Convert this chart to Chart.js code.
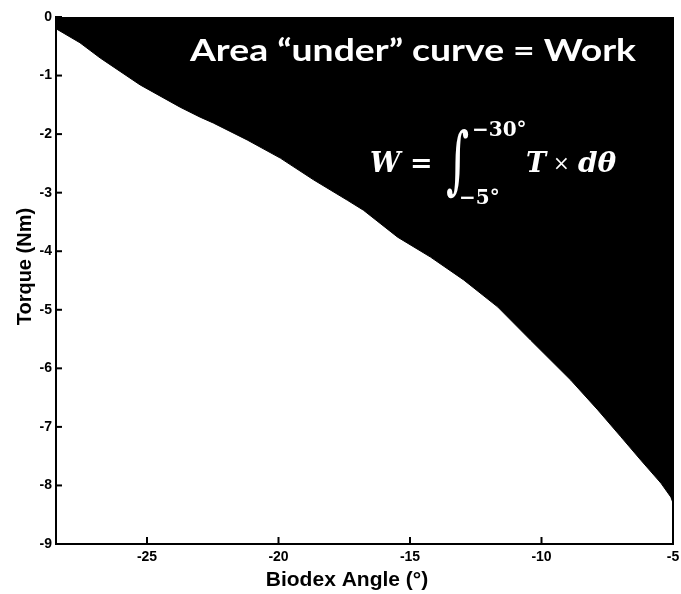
<!DOCTYPE html>
<html>
<head>
<meta charset="utf-8">
<script src="https://cdn.jsdelivr.net/npm/chart.js@4"></script>
<style>
  html, body { margin: 0; padding: 0; background: #fff; }
  #wrap { width: 681px; height: 594px; }
</style>
</head>
<body>
<div id="wrap"><canvas id="workChart"></canvas></div>
<script>
// torque vs angle, area above the curve shaded black (MATLAB style figure)
const angles = [-28.46, -27.55, -26.78, -25.26, -23.74, -22.98, -22.48, -21.19, -19.93, -18.67, -17.38,
  -16.77, -15.47, -14.22, -12.96, -11.67, -10.41, -8.89, -7.86, -6.98, -6.22, -5.46, -5.08, -5.0];
const torque = [-0.20, -0.44, -0.70, -1.16, -1.54, -1.71, -1.81, -2.10, -2.41, -2.78, -3.13,
  -3.30, -3.76, -4.10, -4.49, -4.95, -5.52, -6.20, -6.71, -7.17, -7.57, -7.96, -8.20, -8.30];
const xTicks = [-25, -20, -15, -10, -5];
const yTicks = [-9, -8, -7, -6, -5, -4, -3, -2, -1, 0];

const tickFont = { family: "'Liberation Sans Narrow', 'Liberation Sans', Arial", size: 14, weight: "bold" };

// inward tick marks + right frame line
const frame = {
  id: "frame",
  afterDraw(chart) {
    const { ctx, chartArea: a, scales } = chart;
    ctx.save();
    ctx.strokeStyle = "#000";
    ctx.lineWidth = 2;
    ctx.beginPath();
    ctx.moveTo(a.right, a.top);
    ctx.lineTo(a.right, a.bottom);
    ctx.stroke();
    xTicks.forEach((v) => {
      const px = scales.x.getPixelForValue(v);
      ctx.beginPath();
      ctx.moveTo(px, a.bottom);
      ctx.lineTo(px, a.bottom - 7);
      ctx.stroke();
    });
    yTicks.forEach((v) => {
      const py = scales.y.getPixelForValue(v);
      ctx.beginPath();
      ctx.moveTo(a.left, py);
      ctx.lineTo(a.left + 6, py);
      ctx.stroke();
    });
    ctx.restore();
  },
};

// white annotation text inside the black area
const notes = {
  id: "notes",
  afterDraw(chart) {
    const { ctx } = chart;
    ctx.save();
    ctx.fillStyle = "#fff";
    ctx.textBaseline = "alphabetic";
    ctx.textAlign = "left";
    ctx.font = "bold 30px Lato, 'Open Sans', sans-serif";
    const t = "Area \u201cunder\u201d curve = Work";
    const w = ctx.measureText(t).width;
    ctx.save();
    ctx.translate(190, 61);
    ctx.scale(446 / w, 1);
    ctx.fillText(t, 0, 0);
    ctx.restore();

    const serif = "'DejaVu Serif', 'Liberation Serif', serif";
    ctx.font = "bold italic 27px " + serif;
    ctx.fillText("W", 370, 172);
    ctx.font = "bold 27px " + serif;
    ctx.fillText("=", 410, 172);
    // integral sign, tall and narrow
    ctx.save();
    ctx.textBaseline = "middle";
    ctx.translate(446, 166);
    ctx.scale(0.6, 1);
    ctx.font = "74px " + serif;
    ctx.fillText("\u222b", 0, 0);
    ctx.restore();
    ctx.font = "bold 20px " + serif;
    ctx.fillText("\u221230\u00b0", 472, 136);
    ctx.fillText("\u22125\u00b0", 459, 204);
    ctx.font = "bold italic 27px " + serif;
    ctx.fillText("T", 526, 172);
    ctx.font = "20px " + serif;
    ctx.fillText("\u00d7", 553, 170);
    ctx.font = "bold italic 28px " + serif;
    ctx.fillText("d\u03b8", 578, 172);
    ctx.restore();
  },
};

new Chart(document.getElementById("workChart"), {
  type: "scatter",
  data: {
    datasets: [
      {
        data: angles.map((a, i) => ({ x: a, y: torque[i] })),
        showLine: true,
        borderColor: "#000",
        borderWidth: 1,
        backgroundColor: "#000",
        pointRadius: 0,
        fill: "end",
      },
    ],
  },
  options: {
    responsive: true,
    maintainAspectRatio: false,
    animation: false,
    layout: { padding: { top: 17, right: 8, left: 0, bottom: 0 } },
    plugins: {
      legend: { display: false },
      tooltip: { enabled: false },
    },
    scales: {
      x: {
        type: "linear",
        min: -28.46,
        max: -5,
        afterBuildTicks: (s) => { s.ticks = xTicks.map((v) => ({ value: v })); },
        afterFit: (s) => { s.height = 50; s.paddingLeft = 0; s.paddingRight = 0; },
        grid: { display: false, drawTicks: false },
        border: { color: "#000", width: 2 },
        ticks: { color: "#000", font: tickFont, padding: 5, maxRotation: 0, autoSkip: false },
        title: {
          display: true,
          // trailing spaces nudge the centred title left like the original
          text: "Biodex Angle (\u00b0)      ",
          color: "#000",
          font: { family: "'Liberation Sans', Arial", size: 21, weight: "bold" },
          padding: { top: 0, bottom: 1 },
        },
      },
      y: {
        min: -9,
        max: 0,
        afterBuildTicks: (s) => { s.ticks = yTicks.map((v) => ({ value: v })); },
        afterFit: (s) => { s.width = 56; s.paddingTop = 0; s.paddingBottom = 0; },
        grid: { display: false, drawTicks: false },
        border: { color: "#000", width: 2 },
        ticks: { color: "#000", font: tickFont, padding: 4, autoSkip: false },
        title: {
          display: true,
          text: "     Torque (Nm)",
          color: "#000",
          font: { family: "'Liberation Sans', Arial", size: 20, weight: "bold" },
          padding: { top: 13, bottom: 0 },
        },
      },
    },
  },
  plugins: [frame, notes],
});
</script>
</body>
</html>
